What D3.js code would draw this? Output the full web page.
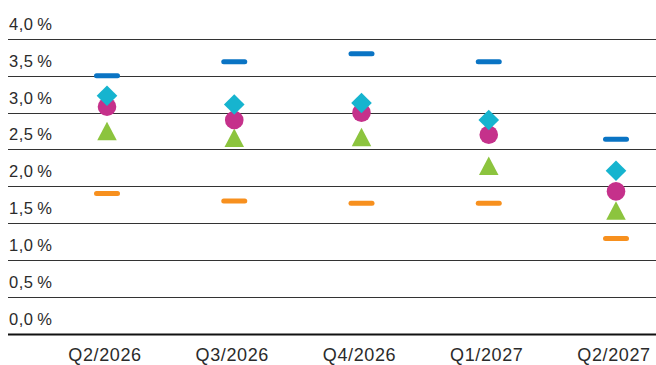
<!DOCTYPE html>
<html>
<head>
<meta charset="utf-8">
<script src="https://cdn.jsdelivr.net/npm/d3@7/dist/d3.min.js"></script>
<style>
  html, body { margin: 0; padding: 0; background: #fff; }
  svg { display: block; }
  text { font-family: "Liberation Sans", Arial, Helvetica, sans-serif; fill: #2b2b2b; }
</style>
</head>
<body>
<svg id="chart" width="656" height="365"></svg>
<script>
// Quarterly forecast ranges: high / low bounds and three point estimates (%)
const quarters = ["Q2/2026", "Q3/2026", "Q4/2026", "Q1/2027", "Q2/2027"];
const highValues     = [3.50, 3.69, 3.80, 3.69, 2.64];
const lowValues      = [1.90, 1.80, 1.77, 1.77, 1.29];
const diamondValues  = [3.23, 3.11, 3.13, 2.90, 2.21];
const circleValues   = [3.08, 2.90, 3.00, 2.70, 1.93];
const triangleValues = [2.75, 2.66, 2.67, 2.28, 1.67];
const yTicks = [0, 0.5, 1, 1.5, 2, 2.5, 3, 3.5, 4];

const colors = {
  high: "#0a74c4",
  low: "#f7901e",
  diamond: "#16b4cf",
  circle: "#c5318b",
  triangle: "#8cc43e"
};

const svg = d3.select("#chart");
const W = 656;

const x = d3.scalePoint().domain(quarters).range([107, 616]).padding(0);
const y = d3.scaleLinear().domain([0, 4]).range([333.5, 39]);

const fmt = v => d3.format(".1f")(v).replace(".", ",") + "\u2009%";

// Horizontal grid lines with labels sitting above each line
const grid = svg.append("g");
grid.selectAll("line").data(yTicks).join("line")
  .attr("x1", 8).attr("x2", W)
  .attr("y1", d => Math.round(y(d)) + 0.5).attr("y2", d => Math.round(y(d)) + 0.5)
  .attr("stroke", d => d === 0 ? "#111" : "#333")
  .attr("stroke-width", d => d === 0 ? 2.2 : 1);
grid.selectAll("text").data(yTicks).join("text")
  .attr("x", 9).attr("y", d => y(d) - 9)
  .attr("font-size", 16.5)
  .attr("letter-spacing", 0.5)
  .text(fmt);

// Category labels
svg.append("g").selectAll("text").data(quarters).join("text")
  .attr("x", d => x(d) - 2).attr("y", 361)
  .attr("text-anchor", "middle")
  .attr("font-size", 18)
  .attr("letter-spacing", 0.6)
  .text(d => d);

const marks = svg.append("g");
const dashW = 26, dashH = 5;

function dashes(values, color) {
  marks.append("g").selectAll("rect").data(values).join("rect")
    .attr("x", (d, i) => x(quarters[i]) - dashW / 2)
    .attr("y", d => y(d) - dashH / 2)
    .attr("width", dashW).attr("height", dashH)
    .attr("rx", dashH / 2)
    .attr("fill", color);
}

dashes(lowValues, colors.low);
dashes(highValues, colors.high);

// Triangle centred on its bounding box
const tw = 19.5, th = 18.5;
marks.append("g").selectAll("path").data(triangleValues).join("path")
  .attr("transform", (d, i) => `translate(${x(quarters[i])},${y(d)})`)
  .attr("d", `M0,${-th / 2}L${tw / 2},${th / 2}L${-tw / 2},${th / 2}Z`)
  .attr("fill", colors.triangle);

marks.append("g").selectAll("circle").data(circleValues).join("circle")
  .attr("cx", (d, i) => x(quarters[i]))
  .attr("cy", d => y(d))
  .attr("r", 9.3)
  .attr("fill", colors.circle);

const dr = 10.3;
marks.append("g").selectAll("path").data(diamondValues).join("path")
  .attr("transform", (d, i) => `translate(${x(quarters[i])},${y(d)})`)
  .attr("d", `M0,${-dr}L${dr},0L0,${dr}L${-dr},0Z`)
  .attr("fill", colors.diamond);
</script>
</body>
</html>
